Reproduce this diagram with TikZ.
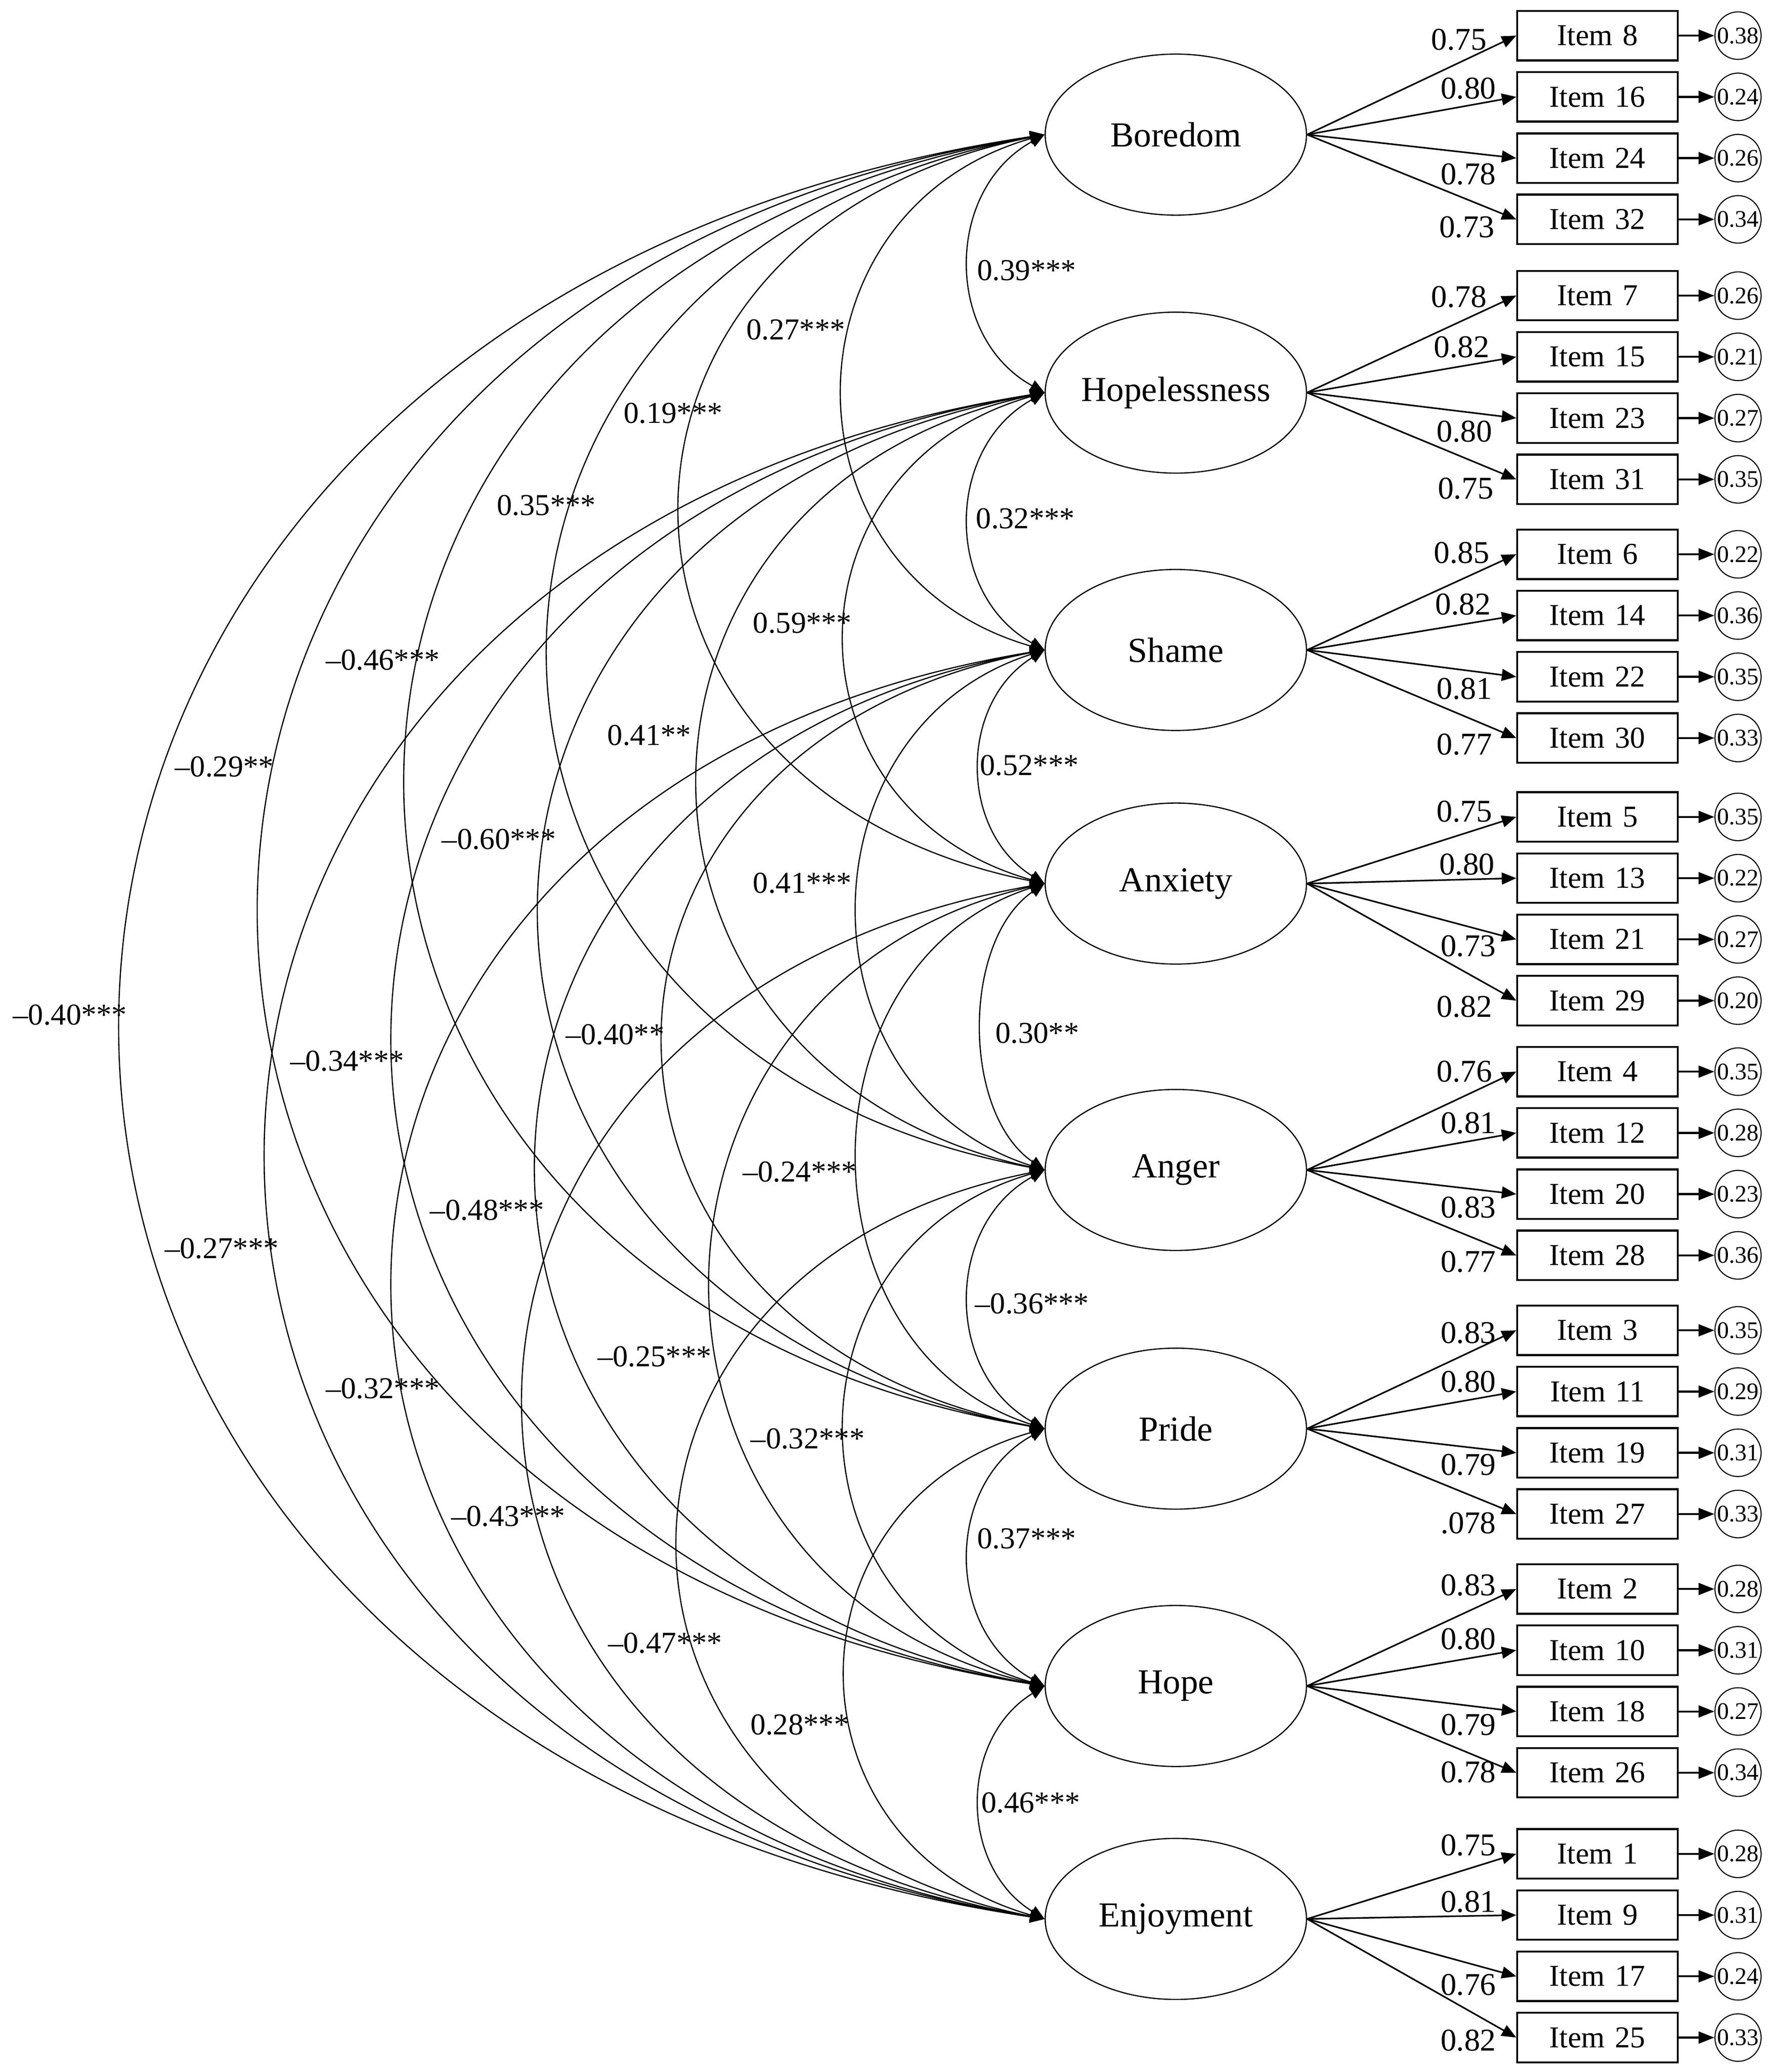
\documentclass[tikz,border=0pt]{standalone}
\usepackage{fontspec}
\setmainfont{Liberation Serif}
\usetikzlibrary{arrows.meta,shapes.geometric}
\newcommand{\zw}[1]{\makebox[0pt]{#1}}
\newcommand{\covarc}[4]{\draw[cov] (#1.west) .. controls +(-#3,#4) and +(-#3,-#4) .. (#2.west);}
\begin{document}
\begin{tikzpicture}[x=0.5pt,y=-0.5pt,
  latent/.style={ellipse,draw,line width=0.45pt,minimum width=99pt,minimum height=61pt,inner sep=0pt,font=\fontsize{13.3}{15}\selectfont},
  itembox/.style={rectangle,draw,line width=0.75pt,minimum width=60.75pt,minimum height=18.75pt,inner sep=0pt,font=\fontsize{11.5}{13}\selectfont},
  errc/.style={ellipse,draw,line width=0.4pt,minimum width=17.5pt,minimum height=18pt,inner sep=0pt,font=\fontsize{9}{10}\selectfont},
  load/.style={line width=0.6pt,-{Triangle[length=5.5pt,width=4.5pt]}},
  errarrow/.style={line width=0.75pt,-{Triangle[length=6pt,width=4.5pt]}},
  cov/.style={line width=0.45pt,{Triangle[length=5.5pt,width=4.5pt]}-{Triangle[length=5.5pt,width=4.5pt]}},
  lab/.style={inner sep=0pt,font=\fontsize{12}{13}\selectfont},
  clab/.style={inner sep=0pt,font=\fontsize{11.5}{13}\selectfont}
]
\fill[white] (0,0) rectangle (1344,1570);
\useasboundingbox (0,0) rectangle (1344,1570);

% latent factors
\node[latent] (bor)  at (891,102)  {\zw{Boredom}};
\node[latent] (hopl) at (891,297.5){\zw{Hopelessness}};
\node[latent] (sha)  at (891,492.5){\zw{Shame}};
\node[latent] (anx)  at (891,669.5){\zw{Anxiety}};
\node[latent] (ang)  at (891,886.5){\zw{Anger}};
\node[latent] (pri)  at (891,1082.5){\zw{Pride}};
\node[latent] (hop)  at (891,1277.5){\zw{Hope}};
\node[latent] (enj)  at (891,1454) {\zw{Enjoyment}};

% indicators, errors, loadings
\foreach \n/\y/\lat/\ld/\lx/\ly/\e in {
8/27/bor/0.75/1127/30/0.38,
16/73.4/bor/0.80/1134/67/0.24,
24/119.8/bor/0.78/1134/132/0.26,
32/166.2/bor/0.73/1133/172/0.34,
7/224/hopl/0.78/1127/225/0.26,
15/270.4/hopl/0.82/1129/263/0.21,
23/316.8/hopl/0.80/1131/327/0.27,
31/363.2/hopl/0.75/1132/370/0.35,
6/420/sha/0.85/1129/419/0.22,
14/466.4/sha/0.82/1130/458/0.36,
22/512.8/sha/0.81/1131/522/0.35,
30/559.2/sha/0.77/1131/564/0.33,
5/619/anx/0.75/1131/615/0.35,
13/665.4/anx/0.80/1133/655/0.22,
21/711.8/anx/0.73/1134/717/0.27,
29/758.2/anx/0.82/1131/763/0.20,
4/812/ang/0.76/1131/812/0.35,
12/858.4/ang/0.81/1134/851/0.28,
20/904.8/ang/0.83/1134/915/0.23,
28/951.2/ang/0.77/1134/956/0.36,
3/1008/pri/0.83/1134/1010/0.35,
11/1054.4/pri/0.80/1134/1047/0.29,
19/1100.8/pri/0.79/1134/1110/0.31,
27/1147.2/pri/.078/1134/1154/0.33,
2/1204/hop/0.83/1134/1201/0.28,
10/1250.4/hop/0.80/1134/1242/0.31,
18/1296.8/hop/0.79/1134/1307/0.27,
26/1343.2/hop/0.78/1134/1343/0.34,
1/1404.7/enj/0.75/1134/1398/0.28,
9/1451.1/enj/0.81/1134/1441/0.31,
17/1497.5/enj/0.76/1134/1504/0.24,
25/1543.9/enj/0.82/1134/1546/0.33}
{
  \node[itembox] (it\n) at (1210.5,\y) {Item\hspace{0.33em}\n};
  \node[errc] (er\n) at (1317,\y) {\zw{\e}};
  \draw[load] (\lat.east) -- (it\n.west);
  \draw[errarrow] (it\n.east) -- (er\n.west);
  \node[lab,anchor=east] (ld\n) at (\lx,\ly) {\ld};
}

% covariances: span 1
\covarc{bor}{hopl}{76}{42}
\covarc{hopl}{sha}{76}{42}
\covarc{sha}{anx}{65}{40}
\covarc{anx}{ang}{63}{43}
\covarc{ang}{pri}{76}{42}
\covarc{pri}{hop}{76}{42}
\covarc{hop}{enj}{65}{40}
% span 2
\covarc{bor}{sha}{203}{58}
\covarc{hopl}{anx}{201}{57}
\covarc{sha}{ang}{188}{60}
\covarc{anx}{pri}{188}{60}
\covarc{ang}{hop}{201}{58}
\covarc{pri}{enj}{200}{57}
% span 3
\covarc{bor}{anx}{367}{73}
\covarc{hopl}{ang}{349}{75}
\covarc{sha}{pri}{384}{75}
\covarc{anx}{hop}{336}{77}
\covarc{ang}{enj}{369}{73}
% span 4
\covarc{bor}{ang}{500}{92}
\covarc{hopl}{pri}{509}{92}
\covarc{sha}{hop}{512}{92}
\covarc{anx}{enj}{525}{92}
% span 5
\covarc{bor}{pri}{644}{108}
\covarc{hopl}{hop}{657}{108}
\covarc{sha}{enj}{657}{107}
% span 6
\covarc{bor}{hop}{792}{124}
\covarc{hopl}{enj}{785}{124}
% span 7
\covarc{bor}{enj}{932}{140}

% correlation labels
\node[clab] (c1) at (778,205) {0.39***};
\node[clab] (c2) at (777,393) {0.32***};
\node[clab] (c3) at (780,580) {0.52***};
\node[clab] (c4) at (786,783) {0.30**};
\node[clab] (c5) at (782,988) {\textendash0.36***};
\node[clab] (c6) at (778,1166) {0.37***};
\node[clab] (c7) at (781,1366) {0.46***};
\node[clab] (c8) at (603,250) {0.27***};
\node[clab] (c9) at (608,472) {0.59***};
\node[clab] (c10) at (608,669) {0.41***};
\node[clab] (c11) at (606,888) {\textendash0.24***};
\node[clab] (c12) at (612,1090) {\textendash0.32***};
\node[clab] (c13) at (606,1307) {0.28***};
\node[clab] (c14) at (510,313) {0.19***};
\node[clab] (c15) at (492,557) {0.41**};
\node[clab] (c16) at (466,784) {\textendash0.40**};
\node[clab] (c17) at (496,1028) {\textendash0.25***};
\node[clab] (c18) at (504,1245) {\textendash0.47***};
\node[clab] (c19) at (414,383) {0.35***};
\node[clab] (c20) at (378,636) {\textendash0.60***};
\node[clab] (c21) at (369,917) {\textendash0.48***};
\node[clab] (c22) at (385,1149) {\textendash0.43***};
\node[clab] (c23) at (290,500) {\textendash0.46***};
\node[clab] (c24) at (263,804) {\textendash0.34***};
\node[clab] (c25) at (290,1052) {\textendash0.32***};
\node[clab] (c26) at (170,581) {\textendash0.29**};
\node[clab] (c27) at (168,946) {\textendash0.27***};
\node[clab] (c28) at (53,769) {\textendash0.40***};
\end{tikzpicture}
\end{document}
